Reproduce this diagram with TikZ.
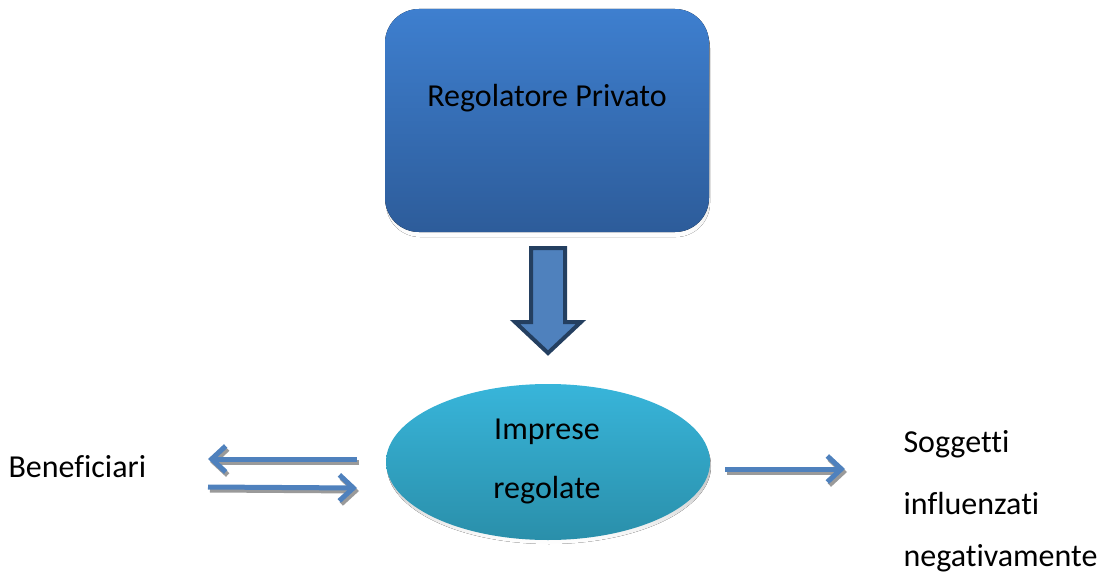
\documentclass[tikz,border=0pt]{standalone}
\usepackage{fontspec}
\setmainfont[Ligatures=NoCommon]{Carlito}
\usetikzlibrary{arrows.meta,shapes.geometric}
\definecolor{boxtop}{HTML}{3E7FCF}
\definecolor{boxbot}{HTML}{2D5C9A}
\definecolor{elltop}{HTML}{38B5DA}
\definecolor{ellbot}{HTML}{2A8FAA}
\definecolor{arrowblue}{HTML}{4F81BD}
\definecolor{arrowedge}{HTML}{243F60}
\definecolor{shade}{HTML}{9A9A9A}
\tikzset{
  lbl/.style={font=\fontsize{32}{38}\selectfont, text=black},
  flow/.style={line width=5pt, draw=arrowblue, line cap=butt,
    -{Straight Barb[length=14pt,width=26pt,line width=5pt]}},
  flowshadow/.style={line width=5pt, draw=shade, line cap=butt,
    -{Straight Barb[length=14pt,width=26pt,line width=5pt]}},
}
\begin{document}
\begin{tikzpicture}[x=1pt,y=-1pt]
\useasboundingbox (0,0) rectangle (1111,575);
% top box with its shadow
\fill[shade, rounded corners=34pt] (386,14) rectangle (710,237);
\fill[rounded corners=34pt, top color=boxtop, bottom color=boxbot]
  (385,9) rectangle (709,232);
\node[lbl] (reg) at (547,98) {Regolatore Privato};
% block arrow pointing down
\draw[line width=4pt, draw=arrowedge, fill=arrowblue, line join=miter]
  (531,248) -- (565,248) -- (565,322) -- (581,322) -- (548,353)
  -- (515,322) -- (531,322) -- cycle;
% ellipse with shadow
\fill[shade] (549,466) ellipse[x radius=162, y radius=78];
\node[ellipse, minimum width=324pt, minimum height=156pt,
  top color=elltop, bottom color=ellbot] (imp) at (548,462) {};
\node[lbl] (imp1) at (547,432) {Imprese};
\node[lbl] (imp2) at (547,490) {regolate};
% side labels
\node[lbl, anchor=west] (ben) at (5,467) {Beneficiari};
\node[lbl, anchor=west] (sog1) at (900,444) {Soggetti};
\node[lbl, anchor=west] (sog2) at (900,504) {influenzati};
\node[lbl, anchor=west] (sog3) at (900,558) {negativamente};
% connectors
\coordinate (la) at (357,459);
\coordinate (lb) at (208,459);
\coordinate (ra) at (208,487);
\coordinate (rb) at (357,488);
\coordinate (oa) at (725,469);
\coordinate (ob) at (845,469);
\draw[flowshadow] ([shift={(2,3)}]la) -- ([shift={(2,3)}]lb);
\draw[flowshadow] ([shift={(2,3)}]ra) -- ([shift={(2,3)}]rb);
\draw[flowshadow] ([shift={(2,3)}]oa) -- ([shift={(2,3)}]ob);
\draw[flow] (la) -- (lb);
\draw[flow] (ra) -- (rb);
\draw[flow] (oa) -- (ob);
\end{tikzpicture}
\end{document}
